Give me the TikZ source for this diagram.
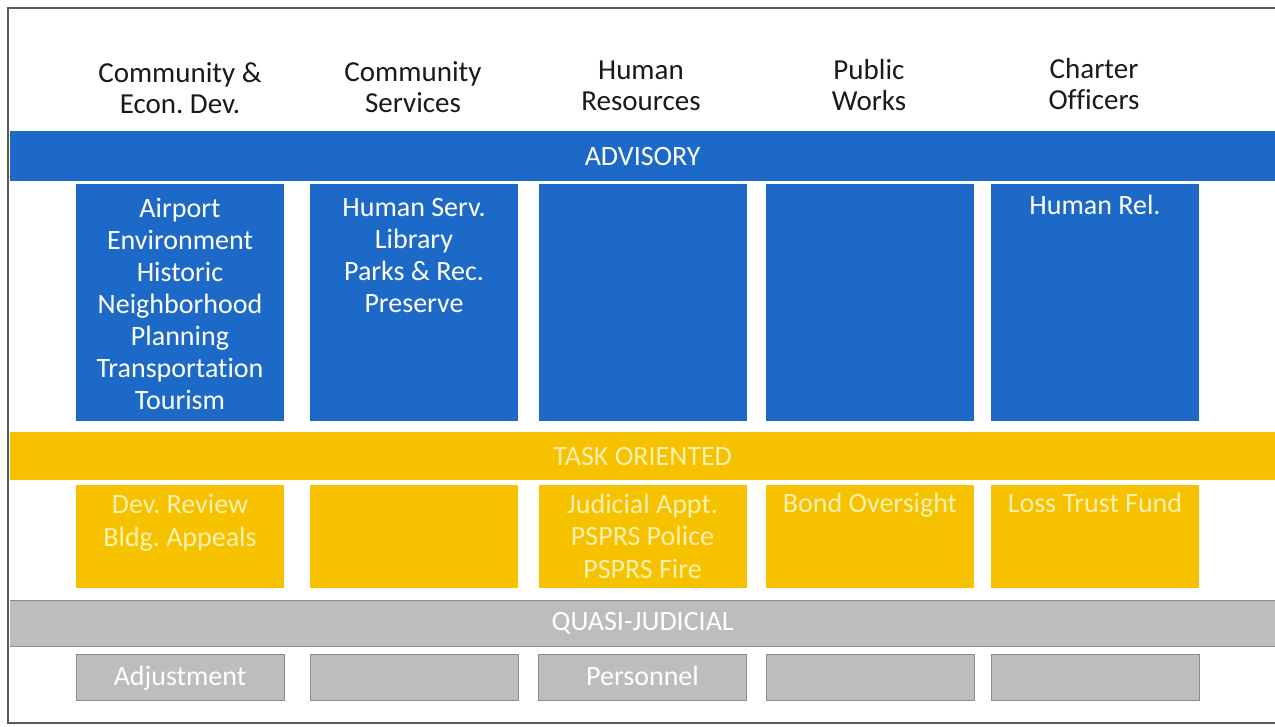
\documentclass[tikz,border=0pt]{standalone}
\usepackage{fontspec}
\setmainfont{Carlito}[Ligatures=NoCommon]
\frenchspacing
\definecolor{advblue}{HTML}{1D69C8}
\definecolor{taskyel}{HTML}{F6C200}
\definecolor{quasigray}{HTML}{BDBDBD}
\definecolor{quasiedge}{HTML}{8C8C8C}
\definecolor{yeltext}{HTML}{FFF0B0}
\definecolor{headtext}{HTML}{1A1A1A}
\definecolor{framecol}{HTML}{5A5A5A}
\tikzset{
  band/.style={anchor=north west, inner sep=0pt, minimum width=1265pt, text=white,
    font=\fontsize{28}{32}\selectfont},
  bluebox/.style={fill=advblue, inner sep=0pt, minimum width=208pt, minimum height=237pt},
  yelbox/.style={fill=taskyel, inner sep=0pt, minimum width=208pt, minimum height=103pt},
  graybox/.style={fill=quasigray, draw=quasiedge, line width=0.8pt, inner sep=0pt, minimum width=208pt, minimum height=46pt},
  head/.style={align=center, text=headtext, inner sep=0pt, font=\fontsize{29}{31}\selectfont},
  bluetext/.style={align=center, text=white, inner sep=0pt, font=\fontsize{28}{32}\selectfont},
  yeltxt/.style={align=center, text=yeltext, inner sep=0pt, font=\fontsize{28}{32.5}\selectfont},
  graytxt/.style={align=center, text=white, inner sep=0pt, font=\fontsize{28}{32}\selectfont},
}
\begin{document}
\begin{tikzpicture}[x=1pt,y=-1pt]
\useasboundingbox (0,0) rectangle (1275,727);
\fill[white] (0,0) rectangle (1275,727);
\draw[framecol, line width=1.6pt] (1275,8) -- (8,8) -- (8,723) -- (1275,723);

% headers
\node[head] (h1) at (180,88) {Community \&\\Econ. Dev.};
\node[head] (h2) at (413,87) {Community\\Services};
\node[head] (h3) at (641,86) {Human\\Resources};
\node[head] (h4) at (869,85) {Public\\Works};
\node[head] (h5) at (1094,84) {Charter\\Officers};

% bands
\node[band, fill=advblue, minimum height=50pt] (adv) at (10,131) {ADVISORY};
\node[band, fill=taskyel, minimum height=48pt, text=yeltext] (task) at (10,432) {TASK ORIENTED};
\node[band, fill=quasigray, minimum height=46pt] (quasi) at (10,600) {QUASI-JUDICIAL};
\draw[quasiedge, line width=0.8pt] (quasi.north west) -- (quasi.north east);
\draw[quasiedge, line width=0.8pt] (quasi.south west) -- (quasi.south east);

% advisory boxes
\node[bluebox] (b1) at (180,302.5) {};
\node[bluebox] (b2) at (414,302.5) {};
\node[bluebox] (b3) at (642.5,302.5) {};
\node[bluebox] (b4) at (870,302.5) {};
\node[bluebox] (b5) at (1095,302.5) {};
\node[bluetext] (bt1) at (180,304) {Airport\\Environment\\Historic\\Neighborhood\\Planning\\Transportation\\Tourism};
\node[bluetext] (bt2) at (414,256) {Human Serv.\\Library\\Parks \& Rec.\\Preserve};
\node[bluetext] (bt5) at (1095,205) {Human Rel.};

% task oriented boxes
\node[yelbox] (y1) at (180,536.5) {};
\node[yelbox] (y2) at (414,536.5) {};
\node[yelbox] (y3) at (642.5,536.5) {};
\node[yelbox] (y4) at (870,536.5) {};
\node[yelbox] (y5) at (1095,536.5) {};
\node[yeltxt] (yt1) at (180,523) {Dev. Review\\Bldg. Appeals};
\node[yeltxt] (yt3) at (642.5,536) {Judicial Appt.\\PSPRS Police\\PSPRS Fire};
\node[yeltxt] (yt4) at (870,505) {Bond Oversight};
\node[yeltxt] (yt5) at (1095,503) {Loss Trust Fund};

% quasi-judicial boxes
\node[graybox] (g1) at (180,677) {};
\node[graybox] (g2) at (414,677) {};
\node[graybox] (g3) at (642.5,677) {};
\node[graybox] (g4) at (870,677) {};
\node[graybox] (g5) at (1095,677) {};
\node[graytxt] (gt1) at (180,678) {Adjustment};
\node[graytxt] (gt3) at (642.5,676) {Personnel};
\end{tikzpicture}
\end{document}
